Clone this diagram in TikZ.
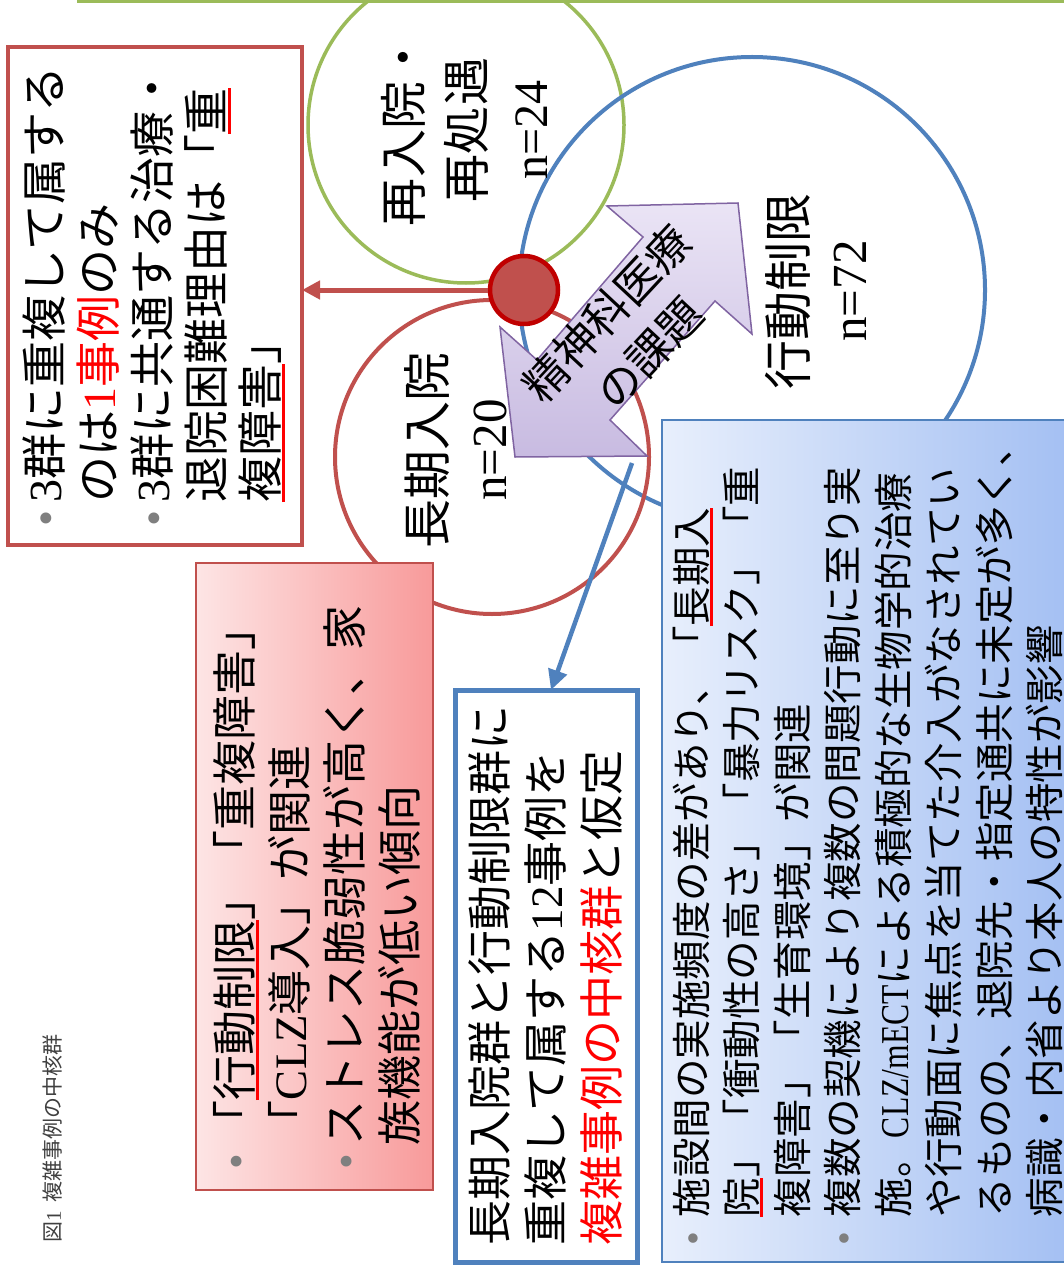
\documentclass[tikz,border=0pt]{standalone}
\usepackage{fontspec}
\setmainfont{Noto Sans CJK JP}
\newfontfamily\lat{Liberation Serif}
\usepackage{graphicx}
\usetikzlibrary{arrows.meta}
\definecolor{cred}{HTML}{C0504D}
\definecolor{cdred}{HTML}{C00000}
\definecolor{cblue}{HTML}{4F81BD}
\definecolor{cgreen}{HTML}{9BBB59}
\definecolor{cpurp}{HTML}{8064A2}
\definecolor{tred}{HTML}{FF0000}
\definecolor{bulg}{HTML}{7F7F7F}
\definecolor{capg}{HTML}{404040}
\newcommand\rul[1]{\setbox0\hbox{#1}\rlap{\textcolor{tred}{\rule[-0.16em]{\wd0}{0.07em}}}\box0}
\newcommand\bul[1]{\makebox[#1][l]{\textcolor{bulg}{\lat •}}}
\begin{document}
\begin{tikzpicture}[x=1pt,y=-1pt,
  txt/.style={inner sep=0pt, outer sep=0pt, align=left, anchor=north west, rotate=90},
  lbl/.style={inner sep=0pt, outer sep=0pt, align=center, rotate=90},
  venn/.style={circle, inner sep=0pt, line width=3.5pt},
  boxn/.style={rectangle, inner sep=0pt, outer sep=0pt, anchor=north west},
]
\path[use as bounding box] (0,0) rectangle (1064,1265);
\clip (0,0) rectangle (1064,1265);
\fill[white] (0,0) rectangle (1064,1265);

% green frame (bottom edge visible)
\draw[cgreen, line width=3pt] (78,-30) rectangle (1110,2);

% circles
\node[venn, draw=cgreen, minimum size=316pt] (cg) at (466,125) {};
\node[venn, draw=cblue, minimum size=466pt, line width=4pt] (cb) at (752,290) {};
\node[venn, draw=cred, minimum size=314pt, line width=4pt] (cr) at (492,457) {};

% boxes
\node[boxn, draw=cred, line width=4pt, fill=white, minimum width=294pt, minimum height=498pt] (tlbox) at (8,47) {};
\node[boxn, draw=cred, line width=1.5pt, left color={rgb,255:red,253;green,229;blue,229}, right color={rgb,255:red,248;green,154;blue,154}, minimum width=237pt, minimum height=627pt] (pkbox) at (196,563) {};
\node[boxn, draw=cblue, line width=5pt, fill=white, minimum width=182pt, minimum height=572pt] (mbbox) at (455,690) {};
\node[boxn, draw=cblue, line width=2pt, left color={rgb,255:red,232;green,239;blue,252}, right color={rgb,255:red,160;green,189;blue,242}, minimum width=430pt, minimum height=842pt] (bbbox) at (662,420) {};

% purple double arrow
\filldraw[draw=cpurp, line width=1.5pt, top color={rgb,255:red,234;green,228;blue,245}, bottom color={rgb,255:red,200;green,187;blue,225}]
  (738,203) -- (752,334) -- (715,301) -- (610,420) -- (647,456) -- (515,457)
  -- (500,327) -- (537,360) -- (643,237) -- (607,206) -- cycle;
\node[lbl, rotate=-43, font=\fontsize{44pt}{58pt}\selectfont] (ptxt) at (628,333) {精神科医療\\の課題};

% red dot and arrow
\node[circle, fill=cred, draw=cdred, line width=4.5pt, minimum size=68pt, inner sep=0pt] (dot) at (524,290) {};
\draw[cred, line width=5pt, -{Triangle[length=18pt,width=18pt]}] (dot.west) -- (dot.west -| tlbox.east);

% blue arrow
\coordinate (bstart) at (632,463);
\coordinate (btipx) at (551,0);
\draw[cblue, line width=4.5pt, -{Triangle[length=20pt,width=19pt]}] (bstart) -- (mbbox.north -| btipx);

% circle labels
\node[lbl, font=\fontsize{48pt}{63pt}\selectfont] (lg) at (464,130) {再入院・\\再処遇\\{\lat n=24}};
\node[lbl, font=\fontsize{49pt}{60pt}\selectfont] (lb) at (816,291) {行動制限\\{\lat n=72}};
\node[lbl, font=\fontsize{49pt}{61pt}\selectfont] (lr) at (456,450) {長期入院\\{\lat n=20}};

% box texts
\node[txt, font=\fontsize{46pt}{54pt}\selectfont] (tltxt) at (23,526) {%
\bul{24pt}{\lat 3}群に重複して属する\\
\hspace*{24pt}のは\textcolor{tred}{{\lat 1}事例}のみ\\
\bul{24pt}{\lat 3}群に共通する治療・\\
\hspace*{24pt}退院困難理由は「\rul{重}\\
\hspace*{24pt}\rul{複障害}」};

\node[txt, font=\fontsize{45pt}{55pt}\selectfont] (pktxt) at (213.5,1169) {%
\bul{24pt}「\rul{行動制限}」「重複障害」\\
\hspace*{24pt}「{\lat CLZ}導入」が関連\\
\bul{24pt}ストレス脆弱性が高く、家\\
\hspace*{24pt}族機能が低い傾向};

\node[txt, font=\fontsize{45pt}{56pt}\selectfont] (mbtxt) at (468.5,1245) {%
長期入院群と行動制限群に\\
重複して属する{\lat 12}事例を\\
\textcolor{tred}{複雑事例の中核群}と仮定};

\node[txt, font=\fontsize{39.5pt}{50.5pt}\selectfont] (bbtxt) at (673,1245) {%
\bul{28pt}施設間の実施頻度の差があり、「\rul{長期入}\\
\hspace*{28pt}\rul{院}」「衝動性の高さ」「暴力リスク」「重\\
\hspace*{28pt}複障害」「生育環境」が関連\\
\bul{28pt}複数の契機により複数の問題行動に至り実\\
\hspace*{28pt}施。{\lat\scalebox{0.8}[1]{CLZ/mECT}}による積極的な生物学的治療\\
\hspace*{28pt}や行動面に焦点を当てた介入がなされてい\\
\hspace*{28pt}るものの、退院先・指定通共に未定が多く、\\
\hspace*{28pt}病識・内省より本人の特性が影響};

% caption
\node[inner sep=0pt, anchor=west, rotate=90, text=capg, font=\fontsize{21pt}{25pt}\selectfont] (cap) at (53,1243) {図{\lat 1}\hspace{0.4em}複雑事例の中核群};
\end{tikzpicture}
\end{document}
